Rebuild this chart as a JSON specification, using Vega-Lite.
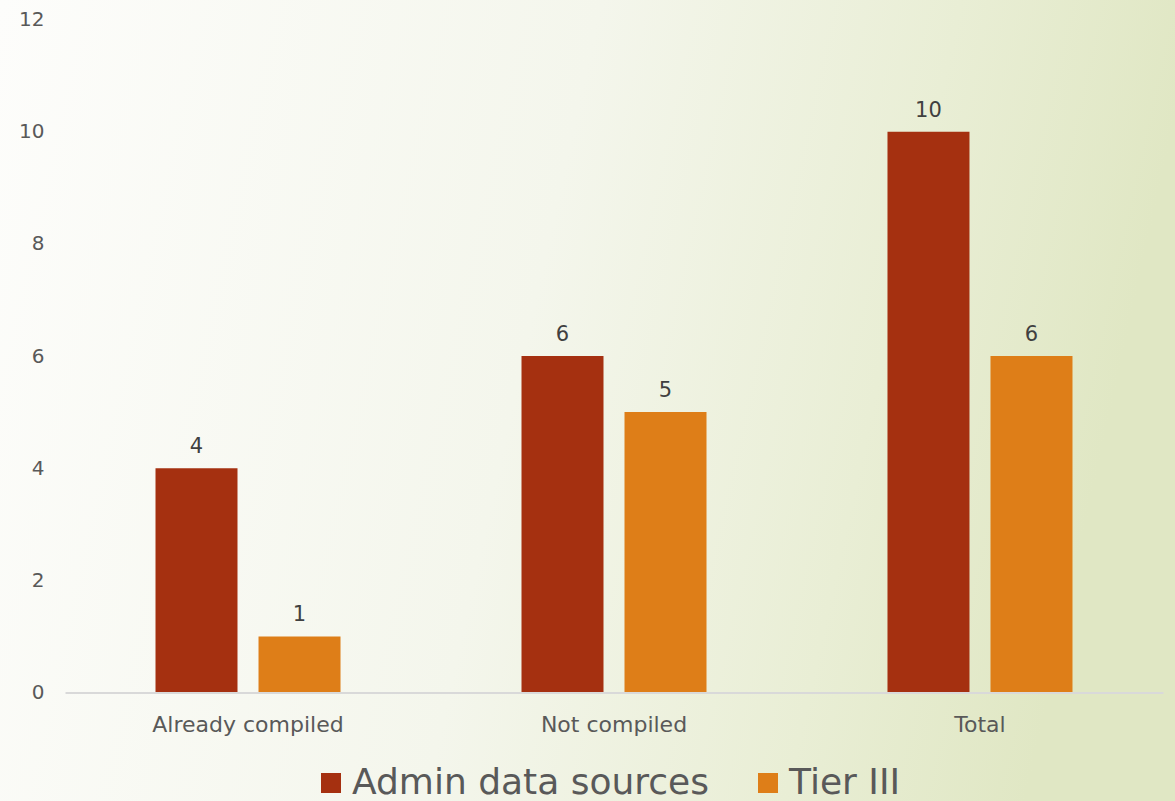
{
  "$schema": "https://vega.github.io/schema/vega-lite/v6.json",
  "width": 1175,
  "height": 801,
  "autosize": {"type": "none"},
  "padding": 0,
  "background": "#f5f6ee",
  "config": {"view": {"stroke": null}, "font": "DejaVu Sans"},
  "data": {
    "values": [
      {"category": "Already compiled", "series": "Admin data sources", "value": 4},
      {"category": "Already compiled", "series": "Tier III", "value": 1},
      {"category": "Not compiled", "series": "Admin data sources", "value": 6},
      {"category": "Not compiled", "series": "Tier III", "value": 5},
      {"category": "Total", "series": "Admin data sources", "value": 10},
      {"category": "Total", "series": "Tier III", "value": 6}
    ]
  },
  "layer": [
    {
      "data": {"values": [{"bg": 1}]},
      "mark": {
        "type": "rect",
        "color": {
          "gradient": "linear",
          "x1": 0, "y1": 0, "x2": 1, "y2": 0.15,
          "stops": [
            {"offset": 0, "color": "#fdfdfb"},
            {"offset": 0.5, "color": "#f4f6ec"},
            {"offset": 0.8, "color": "#e9eed5"},
            {"offset": 1, "color": "#e0e7c4"}
          ]
        }
      },
      "encoding": {}
    },
    {
      "mark": {"type": "bar"},
      "encoding": {
        "x": {
          "field": "category", "type": "nominal",
          "sort": ["Already compiled", "Not compiled", "Total"],
          "scale": {"range": [65, 1163], "paddingInner": 0.4945, "paddingOuter": 0.2473},
          "axis": {
            "title": null, "orient": "bottom", "offset": -108.5, "zindex": 1,
            "domainColor": "#d9d9d9", "domainWidth": 2, "ticks": false,
            "labelAngle": 0, "labelFontSize": 22, "labelColor": "#595959", "labelPadding": 22, "labelLimit": 400
          }
        },
        "xOffset": {
          "field": "series", "type": "nominal",
          "sort": ["Admin data sources", "Tier III"],
          "scale": {"paddingInner": 0.204, "paddingOuter": 0}
        },
        "y": {
          "field": "value", "type": "quantitative",
          "scale": {"domain": [0, 12], "range": [692.5, 19.5], "nice": false},
          "axis": {
            "title": null, "values": [0, 2, 4, 6, 8, 10, 12], "format": "d", "offset": -65, "zindex": 1,
            "domain": false, "ticks": false, "grid": false,
            "labelFontSize": 20, "labelColor": "#595959", "labelPadding": 21
          }
        },
        "color": {
          "field": "series", "type": "nominal",
          "sort": ["Admin data sources", "Tier III"],
          "scale": {"domain": ["Admin data sources", "Tier III"], "range": ["#A53010", "#DE7E18"]},
          "legend": {
            "title": null, "orient": "none", "legendX": 313, "legendY": 765,
            "direction": "horizontal", "symbolType": "square", "symbolSize": 400,
            "labelFontSize": 36, "labelColor": "#595959", "labelOffset": 3, "labelLimit": 600,
            "columnPadding": 40, "symbolStrokeWidth": 0, "symbolOpacity": 1, "padding": 0
          }
        }
      }
    },
    {
      "mark": {"type": "text", "baseline": "alphabetic", "dy": -15, "fontSize": 21, "color": "#404040"},
      "encoding": {
        "x": {"field": "category", "type": "nominal", "sort": ["Already compiled", "Not compiled", "Total"]},
        "xOffset": {"field": "series", "type": "nominal", "sort": ["Admin data sources", "Tier III"]},
        "y": {"field": "value", "type": "quantitative"},
        "text": {"field": "value", "type": "quantitative"}
      }
    }
  ]
}
